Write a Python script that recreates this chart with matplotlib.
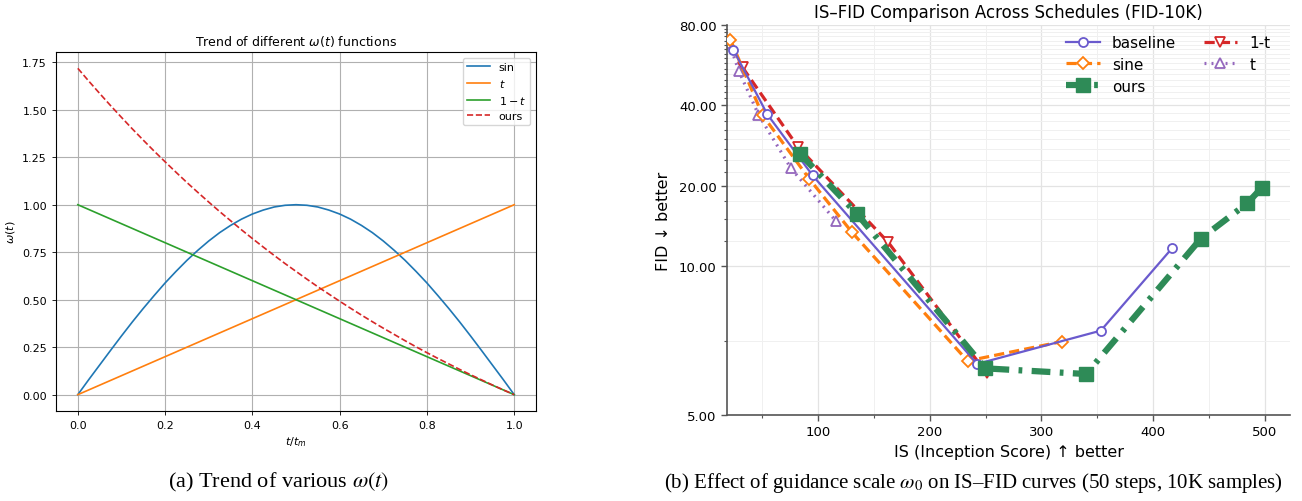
import numpy as np
import matplotlib
matplotlib.use("Agg")
import matplotlib.pyplot as plt
from matplotlib.ticker import FixedLocator, FormatStrFormatter, MultipleLocator

# ---------------- Left panel data ----------------
t_grid = [0.000, 0.025, 0.050, 0.075, 0.100, 0.125, 0.150, 0.175, 0.200, 0.225,
          0.250, 0.275, 0.300, 0.325, 0.350, 0.375, 0.400, 0.425, 0.450, 0.475,
          0.500, 0.525, 0.550, 0.575, 0.600, 0.625, 0.650, 0.675, 0.700, 0.725,
          0.750, 0.775, 0.800, 0.825, 0.850, 0.875, 0.900, 0.925, 0.950, 0.975, 1.000]
w_sin = [0.000, 0.079, 0.156, 0.233, 0.309, 0.383, 0.454, 0.522, 0.588, 0.649,
         0.707, 0.760, 0.809, 0.853, 0.891, 0.924, 0.951, 0.972, 0.988, 0.997,
         1.000, 0.997, 0.988, 0.972, 0.951, 0.924, 0.891, 0.853, 0.809, 0.760,
         0.707, 0.649, 0.588, 0.522, 0.454, 0.383, 0.309, 0.233, 0.156, 0.079, 0.000]
w_t = [0.000, 1.000]
t_lin = [0.000, 1.000]
w_1mt = [1.000, 0.000]
w_ours = [1.718, 1.651, 1.586, 1.522, 1.460, 1.399, 1.340, 1.282, 1.226, 1.171,
          1.117, 1.065, 1.014, 0.964, 0.916, 0.868, 0.822, 0.777, 0.733, 0.690,
          0.649, 0.608, 0.568, 0.530, 0.492, 0.455, 0.419, 0.384, 0.350, 0.317,
          0.284, 0.252, 0.221, 0.191, 0.162, 0.133, 0.105, 0.078, 0.051, 0.025, 0.000]
left_labels = ["sin", "$t$", "$1-t$", "ours"]

# ---------------- Right panel data ----------------
base_is = [24.2, 54.5, 95.1, 242.4, 353.1, 416.9]
base_fid = [64.6, 37.1, 21.9, 6.72, 7.84, 11.7]
sine_is = [21.6, 50.3, 92.0, 130.5, 233.8, 318.1]
sine_fid = [70.4, 36.8, 21.3, 13.4, 6.82, 7.47]
ours_is = [83.9, 135.0, 249.8, 340.0, 442.6, 484.0, 497.0]
ours_fid = [26.4, 15.7, 6.57, 6.38, 12.7, 17.2, 19.65]
omt_is = [32.4, 82.0, 162.9, 251.0]
omt_fid = [55.5, 28.0, 12.3, 6.40]
t_is = [20.5, 29.1, 46.6, 75.7, 115.9]
t_fid = [68.5, 53.8, 37.0, 23.3, 14.8]
y_ticks = [5, 10, 20, 40, 80]
x_ticks = [100, 200, 300, 400, 500]

fig = plt.figure(figsize=(13.02, 5.02), dpi=100)

# ================= Left panel =================
axL = fig.add_axes([0.043, 0.1793, 0.3687, 0.7151])
lw = 1.2
axL.plot(t_grid, w_sin, color="#1f77b4", lw=lw, label=left_labels[0])
axL.plot(t_lin, w_t, color="#ff7f0e", lw=lw, label=left_labels[1])
axL.plot(t_lin, w_1mt, color="#2ca02c", lw=lw, label=left_labels[2])
axL.plot(t_grid, w_ours, color="#d62728", lw=lw, ls="--", label=left_labels[3])
axL.set_yticks([0.0, 0.25, 0.5, 0.75, 1.0, 1.25, 1.5, 1.75])
axL.yaxis.set_major_formatter(FormatStrFormatter("%.2f"))
axL.set_xticks([0.0, 0.2, 0.4, 0.6, 0.8, 1.0])
axL.grid(True, color="#b0b0b0", lw=0.8)
axL.tick_params(labelsize=8, length=3, width=0.6)
for s in axL.spines.values():
    s.set_linewidth(0.8)
axL.set_title("Trend of different $\\omega(t)$ functions", fontsize=9, pad=5)
axL.set_xlabel("$t/t_m$", fontsize=8, labelpad=3)
axL.set_ylabel("$\\omega(t)$", fontsize=8, labelpad=4)
axL.legend(loc="upper right", fontsize=8, handlelength=2.0, borderpad=0.4,
           labelspacing=0.45, framealpha=0.8)

# ================= Right panel =================
axR = fig.add_axes([0.5584, 0.1713, 0.4324, 0.7769])
axR.set_yscale("symlog", linthresh=10, linscale=1)
axR.plot(base_is, base_fid, color="#6a5acd", lw=1.6, ls="-", marker="o", ms=6.5,
         mfc="white", mec="#6a5acd", mew=1.3, label="baseline", zorder=4)
axR.plot(sine_is, sine_fid, color="#ff7f0e", lw=2.3, ls=(0, (3.2, 1.6)), marker="D", ms=6.5,
         mfc="white", mec="#ff7f0e", mew=1.3, label="sine", zorder=3)
axR.plot(ours_is, ours_fid, color="#2e8b57", lw=4.5, ls=(0, (3.0, 1.5, 0.6, 1.5)), marker="s",
         ms=10, mfc="#2e8b57", mec="#2e8b57", label="ours", zorder=5)
axR.plot(omt_is, omt_fid, color="#d62728", lw=2.3, ls=(0, (3.2, 1.6)), marker="v", ms=7,
         mfc="white", mec="#d62728", mew=1.3, label="1-t", zorder=2)
axR.plot(t_is, t_fid, color="#9467bd", lw=2.3, ls=(0, (0.6, 1.6)), marker="^", ms=7,
         mfc="white", mec="#9467bd", mew=1.3, label="t", zorder=2)

axR.set_xlim(18.5, 522.5)
axR.set_ylim(5, 80)
axR.yaxis.set_major_locator(FixedLocator(y_ticks))
axR.yaxis.set_major_formatter(FormatStrFormatter("%.2f"))
axR.yaxis.set_minor_locator(MultipleLocator(2.5))
axR.xaxis.set_major_locator(FixedLocator(x_ticks))
axR.xaxis.set_minor_locator(MultipleLocator(50))
axR.grid(True, which="major", color="#e3e3e3", lw=0.9)
axR.grid(True, which="minor", color="#f0f0f0", lw=0.7)
axR.set_axisbelow(True)
for side in ["top", "right"]:
    axR.spines[side].set_visible(False)
for side in ["left", "bottom"]:
    axR.spines[side].set_color("#555555")
    axR.spines[side].set_linewidth(1.2)
axR.tick_params(which="major", labelsize=9.5, length=4, width=1.0, color="#555555")
axR.tick_params(which="minor", length=2.5, width=0.8, color="#555555")
axR.set_title("IS\u2013FID Comparison Across Schedules (FID-10K)", fontsize=12, pad=6)
axR.set_xlabel("IS (Inception Score) \u2191 better", fontsize=11.5, labelpad=4)
axR.set_ylabel("FID \u2193 better", fontsize=11.5, labelpad=6)
h, l = axR.get_legend_handles_labels()
axR.legend(h, l, ncol=2, loc="upper right", frameon=False, fontsize=11,
           handlelength=2.2, columnspacing=1.8, labelspacing=0.45,
           bbox_to_anchor=(0.99, 1.01))

# ================= Captions =================
fig.text(0.214, 0.038, "(a) Trend of various $\\omega(t)$", ha="center", va="center",
         fontsize=16, family="Liberation Serif", math_fontfamily="stix")
fig.text(0.748, 0.038,
         "(b) Effect of guidance scale $\\omega_0$ on IS\u2013FID curves (50 steps, 10K samples)",
         ha="center", va="center", fontsize=15, family="Liberation Serif",
         math_fontfamily="stix")

fig.savefig("out.png", dpi=100)
